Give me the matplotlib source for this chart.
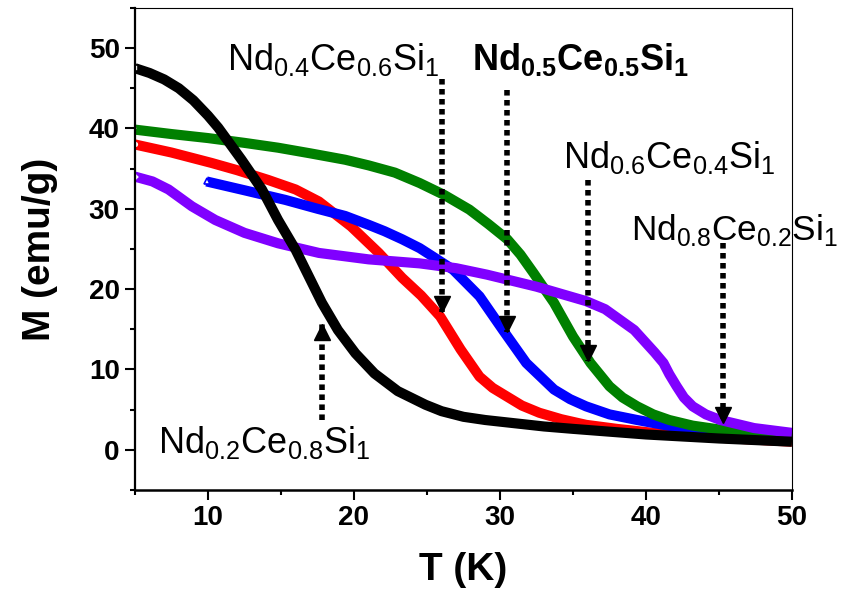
import matplotlib
matplotlib.use('Agg')
import matplotlib.pyplot as plt
import matplotlib.transforms as mtransforms
from matplotlib.ticker import MultipleLocator

plt.rcParams['font.family'] = ['Liberation Sans', 'DejaVu Sans']
plt.rcParams['mathtext.fontset'] = 'custom'
plt.rcParams['mathtext.rm'] = 'Liberation Sans'
plt.rcParams['mathtext.bf'] = 'Liberation Sans:bold'

# M(T) curves
T_02 = [5, 6, 7, 8, 9, 10, 10.7, 12.3, 13.7, 14.8, 16.0, 16.9, 17.8, 18.9, 20.1, 21.4, 23.0, 24.9, 26, 27.5, 29, 31, 33, 35, 40, 45, 50]
M_02 = [47.5, 46.9, 46.1, 45.0, 43.5, 41.6, 40.1, 36.1, 32.4, 28.6, 24.9, 21.6, 18.3, 14.9, 12.0, 9.5, 7.3, 5.6, 4.8, 4.1, 3.7, 3.3, 2.9, 2.6, 1.9, 1.4, 1.0]

T_04 = [5, 7.5, 10.25, 12, 14.1, 16, 17.6, 19.8, 21.7, 23.3, 24.6, 25.9, 27.3, 28.6, 29.5, 30.5, 31.5, 32.7, 34.2, 35.9, 38, 40.5, 45, 50]
M_04 = [38.0, 37.0, 35.7, 34.8, 33.6, 32.4, 30.9, 27.8, 24.5, 21.4, 19.2, 16.6, 12.5, 9.1, 7.7, 6.6, 5.5, 4.6, 3.8, 3.1, 2.6, 2.1, 1.5, 1.0]

T_05 = [9.9, 12.5, 15.3, 17.5, 19.4, 21, 22.1, 23.3, 24.5, 25.7, 26.8, 28.6, 30.2, 31.8, 33.7, 34.8, 35.9, 37.5, 39.4, 41.5, 43.9, 50]
M_05 = [33.4, 32.3, 31.1, 30.0, 29.1, 28.0, 27.2, 26.2, 25.1, 23.7, 22.4, 19.1, 14.9, 10.8, 7.5, 6.3, 5.4, 4.4, 3.7, 3.0, 2.5, 1.7]

T_06 = [5, 7.5, 10, 12.5, 14.8, 17, 19.4, 21, 22.8, 24.5, 26.2, 27.9, 29.2, 30.5, 31.4, 32.3, 33.7, 35.0, 36.2, 37.5, 38.4, 39.4, 40.5, 41.6, 43.2, 45.1, 50]
M_06 = [39.85, 39.3, 38.8, 38.2, 37.6, 36.9, 36.1, 35.4, 34.5, 33.2, 31.7, 29.9, 28.1, 26.2, 24.3, 22.0, 18.3, 14.1, 10.8, 7.9, 6.5, 5.4, 4.4, 3.7, 3.0, 2.5, 1.7]

T_08 = [5, 6.2, 7.3, 8.9, 10.5, 12.5, 14.8, 17.6, 21.0, 24.5, 27, 29.1, 32.5, 35.9, 37.2, 38.2, 39.2, 40.0, 40.6, 41.2, 41.6, 42.1, 42.6, 43.2, 44.1, 45.1, 47.4, 50]
M_08 = [34.0, 33.4, 32.4, 30.3, 28.6, 27.0, 25.7, 24.5, 23.7, 23.2, 22.6, 21.8, 20.3, 18.5, 17.5, 16.2, 14.9, 13.3, 12.1, 10.8, 9.4, 7.9, 6.5, 5.4, 4.4, 3.7, 2.7, 2.1]

# annotation arrows: x, start of shaft, tip
arrows = [
    (26.0, 46.1, 17.1),
    (30.45, 44.8, 14.7),
    (36.05, 33.6, 11.0),
    (45.25, 25.7, 3.3),
    (17.8, 3.7, 15.6),
]

labels = [
    (r'Nd$_{0.4}$Ce$_{0.6}$Si$_{1}$', 11.28, 47.3, 26),
    (r'$\mathbf{Nd_{0.5}Ce_{0.5}Si_{1}}$', 28.06, 47.3, 26),
    (r'Nd$_{0.6}$Ce$_{0.4}$Si$_{1}$', 34.33, 35.1, 26),
    (r'Nd$_{0.8}$Ce$_{0.2}$Si$_{1}$', 38.95, 26.15, 25.3),
    (r'Nd$_{0.2}$Ce$_{0.8}$Si$_{1}$', 6.6, -0.4, 26),
]

fig = plt.figure(figsize=(8.41, 5.96), dpi=100)
ax = fig.add_axes([0.1605, 0.178, 0.7812, 0.8087])

series = [
    (T_04, M_04, 'red', 'o'),
    (T_05, M_05, 'blue', '^'),
    (T_06, M_06, 'green', 'v'),
    (T_08, M_08, '#8000ff', 'D'),
    (T_02, M_02, 'black', 's'),
]
for T, M, c, mk in series:
    ax.plot(T, M, color=c, lw=7.3, solid_joinstyle='round', solid_capstyle='butt')
    ax.plot(T[0], M[0], marker=mk, ms=5, mfc='white', mec=c, mew=1.2, ls='none')

ms_head = 11.5
for x, y0, tip in arrows:
    ax.plot([x, x], [y0, tip], color='black', lw=4, ls=(0, (1, 0.8)))
    if tip < y0:
        tr = mtransforms.offset_copy(ax.transData, fig, y=ms_head / 2, units='points')
        ax.plot(x, tip, marker='v', ms=ms_head, color='black', transform=tr)
    else:
        tr = mtransforms.offset_copy(ax.transData, fig, y=-ms_head / 2, units='points')
        ax.plot(x, tip, marker='^', ms=ms_head, color='black', transform=tr)

for txt, x, y, fs in labels:
    ax.text(x, y, txt, fontsize=fs, ha='left', va='baseline')

ax.set_xlim(5, 50)
ax.set_ylim(-5, 55)
ax.xaxis.set_minor_locator(MultipleLocator(5))
ax.yaxis.set_minor_locator(MultipleLocator(5))
ax.set_xticks([10, 20, 30, 40, 50])
ax.set_yticks([0, 10, 20, 30, 40, 50])

ax.tick_params(which='major', direction='out', length=7, width=1.5, labelsize=20, pad=4)
ax.tick_params(which='minor', direction='out', length=3.5, width=1.5)
for lab in ax.get_xticklabels() + ax.get_yticklabels():
    lab.set_fontweight('bold')

ax.spines['left'].set_linewidth(1.6)
ax.spines['bottom'].set_linewidth(1.8)
ax.spines['top'].set_linewidth(0.8)
ax.spines['right'].set_linewidth(0.8)

ax.set_xlabel('T (K)', fontsize=28, fontweight='bold', labelpad=15)
ax.set_ylabel('M (emu/g)', fontsize=28, fontweight='bold', labelpad=22)

fig.savefig('out.png', dpi=100)
